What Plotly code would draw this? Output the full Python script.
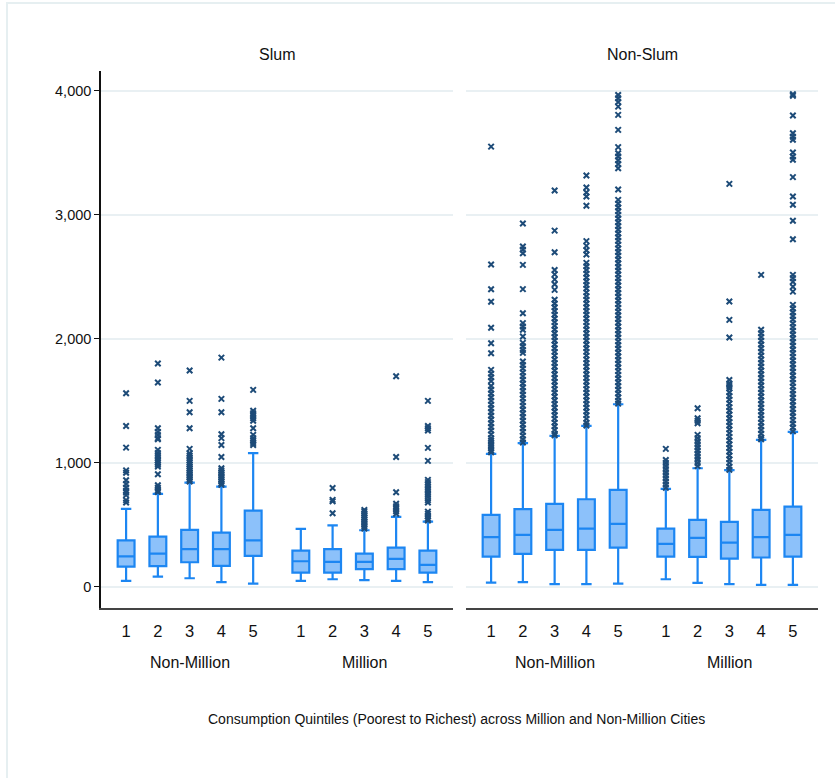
import plotly.graph_objects as go

# ---------------- data ----------------
quintiles = ["1", "2", "3", "4", "5", "1", "2", "3", "4", "5"]
groups = ["Non-Million", "Million"]
panels = ["Slum", "Non-Slum"]

# Slum panel: NM1..NM5, M1..M5
slum_lower = [48, 83, 70, 38, 27, 48, 62, 54, 48, 38]
slum_q1 = [164, 167, 199, 169, 250, 115, 115, 143, 143, 115]
slum_median = [247, 269, 304, 304, 376, 207, 202, 202, 226, 177]
slum_q3 = [376, 406, 460, 438, 615, 293, 304, 269, 317, 293]
slum_upper = [629, 750, 841, 809, 1078, 468, 497, 457, 565, 527]

slum_outliers = [
    [1562, 1298, 1123, 940, 920, 860, 830, 800, 775, 760, 740, 700, 680],
    [1801, 1648, 1280, 1250, 1225, 1200, 1190, 1105, 1080, 1060, 1040, 1020,
     1000, 985, 970, 909, 820, 800, 780, 765],
    [1745, 1500, 1409, 1280, 1113, 1078, 1060, 1040, 1020, 1000, 985, 970,
     955, 940, 925, 910, 895, 880, 865, 850],
    [1849, 1516, 1409, 1231, 1200, 1145, 1048, 957, 940, 925, 910, 895, 880,
     865, 850, 835, 823],
    [1589, 1420, 1400, 1380, 1360, 1340, 1280, 1226, 1200, 1180, 1160, 1145],
    [],
    [798, 702, 690, 594],
    [620, 605, 590, 575, 560, 545, 530, 515, 500, 485, 470],
    [1699, 1048, 764, 670, 650, 630, 610, 590],
    [1500, 1298, 1280, 1261, 1121, 1016, 863, 845, 825, 805, 785, 765, 745,
     725, 700, 680, 607, 590, 570, 550, 535],
]

# Non-Slum panel: NM1..NM5, M1..M5
nonslum_lower = [35, 38, 22, 22, 27, 62, 32, 22, 16, 16]
nonslum_q1 = [245, 266, 298, 298, 317, 245, 242, 228, 237, 245]
nonslum_median = [401, 419, 460, 470, 508, 347, 395, 357, 401, 419]
nonslum_q3 = [581, 627, 669, 707, 782, 470, 540, 524, 621, 648]
nonslum_upper = [1073, 1159, 1218, 1298, 1473, 790, 957, 941, 1185, 1250]

nonslum_outliers = [
    [3550, 2600, 2400, 2300, 2090, 1965, 1884, 1750, 1720, 1690, 1660, 1620,
     1590, 1560, 1530, 1500, 1470, 1440, 1410, 1380, 1350, 1320, 1290, 1260,
     1230, 1200, 1180, 1160, 1140, 1120, 1100, 1085],
    [2930, 2745, 2720, 2690, 2597, 2401, 2207, 2127, 2100, 2073, 2019, 1968,
     1940, 1910, 1887, 1817, 1790, 1760, 1730, 1700, 1670, 1640, 1610, 1580,
     1550, 1520, 1490, 1460, 1430, 1400, 1370, 1340, 1310, 1280, 1250, 1220,
     1190, 1165],
    [3196, 2873, 2699, 2556, 2520, 2480, 2440, 2395, 2315, 2285, 2255, 2225,
     2195, 2165, 2135, 2105, 2075, 2045, 2015, 1985, 1955, 1925, 1895, 1865,
     1835, 1805, 1775, 1745, 1715, 1685, 1655, 1625, 1595, 1565, 1535, 1505,
     1475, 1445, 1415, 1385, 1355, 1325, 1295, 1265, 1235, 1222],
    [3317, 3220, 3180, 3148, 3073, 2788, 2750, 2715, 2680, 2613, 2585, 2555,
     2525, 2495, 2465, 2435, 2405, 2375, 2345, 2315, 2285, 2255, 2225, 2195,
     2165, 2135, 2105, 2075, 2045, 2015, 1985, 1955, 1925, 1895, 1865, 1835,
     1805, 1775, 1745, 1715, 1685, 1655, 1625, 1595, 1565, 1535, 1505, 1475,
     1445, 1415, 1385, 1355, 1325, 1302],
    [3967, 3940, 3910, 3873, 3806, 3685, 3546, 3497, 3470, 3440, 3410, 3376,
     3204, 3121, 3090, 3060, 3030, 3000, 2970, 2940, 2910, 2880, 2850, 2820,
     2790, 2760, 2730, 2700, 2670, 2640, 2610, 2580, 2550, 2520, 2490, 2460,
     2430, 2400, 2370, 2340, 2310, 2280, 2250, 2220, 2190, 2160, 2130, 2100,
     2070, 2040, 2010, 1980, 1950, 1920, 1890, 1860, 1830, 1800, 1770, 1740,
     1710, 1680, 1650, 1620, 1590, 1560, 1530, 1500, 1478],
    [1113, 1024, 1000, 975, 950, 925, 900, 875, 850, 825, 800],
    [1441, 1360, 1340, 1320, 1226, 1200, 1175, 1150, 1125, 1100, 1075, 1050,
     1025, 1000, 975],
    [3250, 2301, 2153, 2011, 1669, 1640, 1620, 1600, 1570, 1540, 1510, 1480,
     1450, 1420, 1390, 1360, 1330, 1300, 1270, 1240, 1210, 1180, 1150, 1120,
     1090, 1060, 1030, 1000, 970, 945],
    [2516, 2073, 2045, 2015, 1985, 1955, 1925, 1895, 1865, 1835, 1805, 1775,
     1745, 1715, 1685, 1655, 1625, 1595, 1565, 1535, 1505, 1475, 1445, 1415,
     1385, 1355, 1325, 1295, 1265, 1235, 1205, 1190],
    [3973, 3960, 3801, 3658, 3630, 3605, 3503, 3470, 3444, 3304, 3148, 3081,
     2952, 2804, 2516, 2490, 2460, 2420, 2381, 2274, 2245, 2215, 2185, 2155,
     2125, 2095, 2065, 2035, 2005, 1975, 1945, 1915, 1885, 1855, 1825, 1795,
     1765, 1735, 1705, 1675, 1645, 1615, 1585, 1555, 1525, 1495, 1465, 1435,
     1405, 1375, 1345, 1315, 1285, 1255],
]

y_ticks = [0, 1000, 2000, 3000, 4000]
x_title = "Consumption Quintiles (Poorest to Richest) across Million and Non-Million Cities"

# ---------------- styling ----------------
W, H = 835, 778
FONT = "Liberation Sans, Arial, Helvetica, sans-serif"
BOX_FILL = "#8cc1fa"
BOX_LINE = "#1c86f2"
OUTLIER = "#1d4b78"
GRID = "#e9f0f3"

# category positions on the categorical axis (gap between the two city groups)
positions = [0, 1, 2, 3, 4, 5.5, 6.5, 7.5, 8.5, 9.5]
group_centers = [2, 7.5]

fig = go.Figure()

panel_data = [
    (slum_lower, slum_q1, slum_median, slum_q3, slum_upper, slum_outliers),
    (nonslum_lower, nonslum_q1, nonslum_median, nonslum_q3, nonslum_upper, nonslum_outliers),
]

for p, (lo, q1, med, q3, up, outl) in enumerate(panel_data):
    xa = "x" if p == 0 else "x2"
    ya = "y" if p == 0 else "y2"
    fig.add_trace(go.Box(
        x=positions, q1=q1, median=med, q3=q3, lowerfence=lo, upperfence=up,
        boxpoints=False, width=0.53, whiskerwidth=0.62,
        fillcolor=BOX_FILL, line=dict(color=BOX_LINE, width=2.2),
        xaxis=xa, yaxis=ya, showlegend=False, hoverinfo="skip",
    ))
    ox, oy = [], []
    for pos, vals in zip(positions, outl):
        ox += [pos] * len(vals)
        oy += vals
    fig.add_trace(go.Scatter(
        x=ox, y=oy, mode="markers",
        marker=dict(symbol="x-thin", size=5.5, color=OUTLIER,
                    line=dict(color=OUTLIER, width=2)),
        xaxis=xa, yaxis=ya, showlegend=False, hoverinfo="skip",
    ))


def px_x(v):
    return v / W


def px_y(v):
    return 1 - v / H


x_dom1 = [px_x(101), px_x(453)]
x_dom2 = [px_x(466), px_x(818)]
y_dom = [px_y(608), px_y(71)]
x_range = [-0.79, 10.29]
y_range = [-170, 4160]

xaxis_common = dict(
    range=x_range, tickmode="array", tickvals=positions, ticktext=quintiles,
    showgrid=False, zeroline=False, showline=True, linecolor="#444444",
    linewidth=2, ticks="outside", ticklen=7, tickcolor="rgba(0,0,0,0)",
    tickfont=dict(family=FONT, size=16.5, color="#111"),
)

fig.update_layout(
    width=W, height=H,
    margin=dict(l=0, r=0, t=0, b=0),
    paper_bgcolor="white", plot_bgcolor="white",
    font=dict(family=FONT, color="#111"),
    xaxis=dict(domain=x_dom1, anchor="y", **xaxis_common),
    xaxis2=dict(domain=x_dom2, anchor="y2", **xaxis_common),
    yaxis=dict(
        domain=y_dom, range=y_range, tickvals=y_ticks, tickformat=",",
        showgrid=True, gridcolor=GRID, gridwidth=1.5, zeroline=False,
        showline=True, linecolor="#111", linewidth=1.5,
        ticks="outside", ticklen=5, tickcolor="#111", tickwidth=1.2,
        tickfont=dict(family=FONT, size=14.5, color="#111"),
    ),
    yaxis2=dict(
        domain=y_dom, range=y_range, tickvals=y_ticks, matches="y",
        showgrid=True, gridcolor=GRID, gridwidth=1.5, zeroline=False,
        showline=False, showticklabels=False, ticks="", anchor="x2",
    ),
)

annotations = []
for p, name in enumerate(panels):
    dom = x_dom1 if p == 0 else x_dom2
    annotations.append(dict(
        text=name, x=(dom[0] + dom[1]) / 2, y=px_y(55), xref="paper", yref="paper",
        showarrow=False, xanchor="center", yanchor="middle",
        font=dict(family=FONT, size=16, color="#111"),
    ))
for p in range(2):
    xr = "x" if p == 0 else "x2"
    for gc, g in zip(group_centers, groups):
        annotations.append(dict(
            text=g, x=gc, y=px_y(662), xref=xr, yref="paper",
            showarrow=False, xanchor="center", yanchor="middle",
            font=dict(family=FONT, size=16, color="#111"),
        ))
annotations.append(dict(
    text=x_title, x=px_x(456), y=px_y(719), xref="paper", yref="paper",
    showarrow=False, xanchor="center", yanchor="middle",
    font=dict(family=FONT, size=14, color="#111"),
))
fig.update_layout(annotations=annotations)

# faint outer frame of the graph region
fig.add_shape(type="rect", xref="paper", yref="paper",
              x0=px_x(7), x1=px_x(845), y0=px_y(790), y1=px_y(3),
              line=dict(color="#e6eff1", width=2), fillcolor="rgba(0,0,0,0)", layer="below")

fig.write_html("out.html", config={"displayModeBar": False},
               post_script="document.body.style.margin='0px';")
